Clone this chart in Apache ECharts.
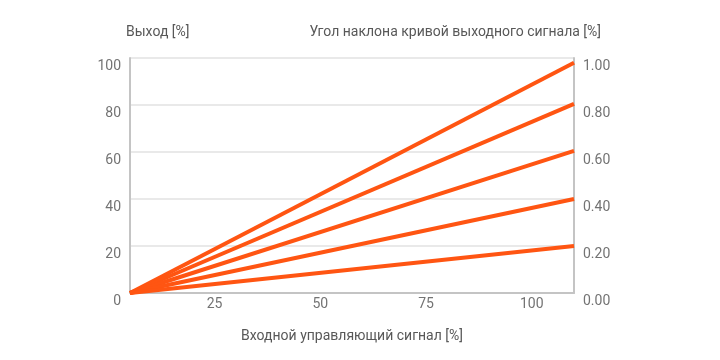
<!DOCTYPE html>
<html><head><meta charset="utf-8">
<script src="https://cdn.jsdelivr.net/npm/echarts@6/dist/echarts.min.js"></script>
<style>html,body{margin:0;padding:0;background:#fff}#c{width:720px;height:360px}</style>
</head><body><div id="c"></div>
<script>
const xStart = 5;
const xEnd = 110;
const endValues = [98, 80.5, 60.5, 40, 20];
const xTickLabels = [25, 50, 75, 100];
const leftTitle = 'Выход [%]';
const rightTitle = 'Угол наклона кривой выходного сигнала [%]';
const xTitle = 'Входной управляющий сигнал [%]';

const font = 'Roboto';
const txt = '#737373';
const chart = echarts.init(document.getElementById('c'), null, {renderer: 'canvas'});
chart.setOption({
  animation: false,
  backgroundColor: '#fff',
  title: [
    {text: leftTitle, left: 121, top: 20, textStyle: {fontFamily: font, fontSize: 14, fontWeight: 'normal', color: '#585858'}},
    {text: rightTitle, right: 114, top: 20, textStyle: {fontFamily: font, fontSize: 14, fontWeight: 'normal', color: '#585858'}}
  ],
  grid: {left: 130, right: 146, top: 58, bottom: 67},
  xAxis: {
    type: 'value', min: xStart, max: xEnd,
    name: xTitle, nameLocation: 'middle', nameGap: 36,
    nameTextStyle: {fontFamily: font, fontSize: 14, color: '#585858'},
    axisLine: {show: true, lineStyle: {color: '#c4c4c4', width: 2}},
    axisTick: {show: false},
    splitLine: {show: false},
    axisLabel: {customValues: xTickLabels, fontFamily: font, fontSize: 14, color: txt, margin: 4}
  },
  yAxis: [
    {
      type: 'value', min: 0, max: 100, interval: 20, position: 'left',
      axisLine: {show: true, lineStyle: {color: '#c4c4c4', width: 2}},
      axisTick: {show: false},
      splitLine: {show: true, lineStyle: {color: '#e2e2e2', width: 1.5}},
      axisLabel: {fontFamily: font, fontSize: 14, color: txt, margin: 9, verticalAlign: 'top', lineHeight: 17}
    },
    {
      type: 'value', min: 0, max: 1, interval: 0.2, position: 'right',
      axisLine: {show: true, lineStyle: {color: '#c4c4c4', width: 2}},
      axisTick: {show: false},
      splitLine: {show: false},
      axisLabel: {fontFamily: font, fontSize: 14, color: txt, margin: 9, verticalAlign: 'top', lineHeight: 17, formatter: v => v.toFixed(2)}
    }
  ],
  series: endValues.map(v => ({
    type: 'line', yAxisIndex: 0, symbol: 'none',
    data: [[xStart, 0], [xEnd, v]],
    lineStyle: {color: '#ff5512', width: 4},
    z: 5
  }))
});
</script></body></html>
